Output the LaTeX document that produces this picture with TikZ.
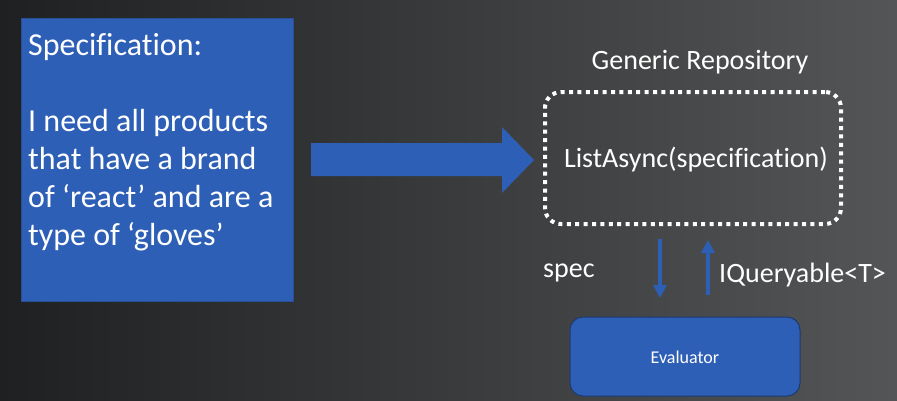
\documentclass[tikz,border=0pt]{standalone}
\usepackage{fontspec}
\setmainfont{Carlito}[Ligatures={NoCommon}]
\usetikzlibrary{arrows.meta}
\definecolor{bgleft}{HTML}{1F2022}
\definecolor{bgright}{HTML}{545557}
\definecolor{pblue}{HTML}{2E5FB6}
\definecolor{pborder}{HTML}{2A4F96}
\definecolor{evborder}{HTML}{1C3A6E}
\tikzset{
  bluebox/.style={draw=pborder, line width=1pt, fill=pblue, inner sep=0pt},
  whitetext/.style={text=white, inner sep=0pt},
  bigfont/.style={font=\fontsize{32}{38}\selectfont},
  midfont/.style={font=\fontsize{28}{34}\selectfont},
  smallfont/.style={font=\fontsize{18}{22}\selectfont},
  dotbox/.style={draw=white, line width=4pt, dash pattern=on 4pt off 4.4pt, rounded corners=16pt, inner sep=0pt},
  flowarrow/.style={draw=pblue, line width=3.5pt, -{Triangle[length=13pt,width=13pt]}}
}
\begin{document}
\begin{tikzpicture}[x=1pt,y=-1pt]
\shade[left color=bgleft, right color=bgright] (0,0) rectangle (897,400);
\useasboundingbox (0,0) rectangle (897,400);
% specification box
\node[bluebox, minimum width=272pt, minimum height=283pt] (spec) at (157,159.5) {};
\node[whitetext, bigfont, anchor=north west, align=left] (spectext) at (28,33)
  {Specification:\\[38pt]I need all products\\that have a brand\\of ‘react’ and are a\\type of ‘gloves’};
% big arrow
\fill[pblue] (311,143) -- (502,143) -- (502,127) -- (534,160) -- (502,193) -- (502,176) -- (311,176) -- cycle;
% generic repository
\node[whitetext, midfont, anchor=base] (repotitle) at (700,69) {Generic Repository};
\node[dotbox, minimum width=296pt, minimum height=132pt] (repo) at (693,158) {};
\node[whitetext, midfont] (list) at (696,160) {ListAsync(specification)};
% evaluator
\node[draw=evborder, line width=1pt, fill=pblue, rounded corners=13pt, minimum width=230pt, minimum height=79pt, inner sep=0pt] (eval) at (685,356.5) {};
\node[whitetext, smallfont] (evaltext) at (685,357) {Evaluator};
% arrows
\coordinate (dtop) at (660,239);
\coordinate (dbot) at (660,298);
\coordinate (ubot) at (708,295);
\coordinate (utop) at (708,240);
\draw[flowarrow] (dtop) -- (dbot);
\draw[flowarrow] (ubot) -- (utop);
\node[whitetext, midfont, anchor=base west] (speclbl) at (543,277) {spec};
\node[whitetext, midfont, anchor=base west] (iqlbl) at (719,282) {IQueryable<T>};
\end{tikzpicture}
\end{document}
